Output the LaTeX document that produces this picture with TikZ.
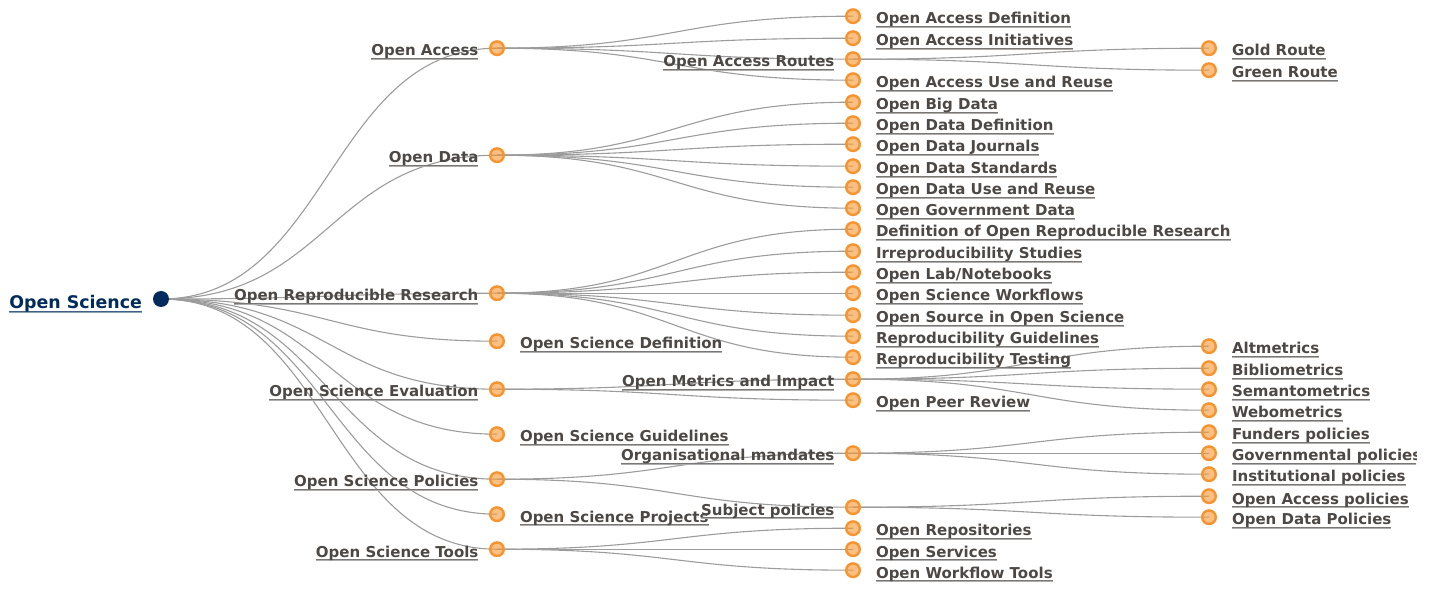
\documentclass[tikz,border=0pt]{standalone}
\usepackage{fontspec}
\setmainfont{DejaVu Sans}
\usetikzlibrary{backgrounds,calc}
\definecolor{labelgrey}{HTML}{4D4844}
\definecolor{navy}{HTML}{002B5C}
\definecolor{ringorange}{HTML}{F7942E}
\definecolor{linkgrey}{HTML}{9C9C9C}
\newcommand{\ulabel}[2]{\sbox0{#2}\makebox[0pt][l]{\color{#1!45!white}\rule[-4.0pt]{\wd0}{1.3pt}}\makebox[0pt][l]{\color{#1!75!white}\rule[-2.9pt]{\wd0}{0.8pt}}\copy0}
\tikzset{
  x=1pt,y=-1pt,
  dot/.style={circle,draw=ringorange,line width=2.4pt,fill=ringorange,fill opacity=.6,inner sep=0pt,minimum size=13.6pt},
  rootdot/.style={circle,fill=navy,inner sep=0pt,minimum size=16pt},
  lab/.style={inner sep=0pt,outer sep=0pt,font=\bfseries\fontsize{15pt}{16pt}\selectfont,text=labelgrey},
  rootlab/.style={inner sep=0pt,outer sep=0pt,font=\bfseries\fontsize{17.4pt}{18pt}\selectfont,text=navy},
  linkline/.style={draw=linkgrey,line width=1.1pt}
}
\newcommand{\lnode}[4]{% name,x,y,text : label on the left
  \node[dot] (#1) at (#2,#3+.2) {};
  \node[lab,anchor=base east] (#1t) at (#2-18.6,#3+8) {\ulabel{labelgrey}{#4}};}
\newcommand{\rnode}[4]{% label on the right
  \node[dot] (#1) at (#2,#3+.2) {};
  \node[lab,anchor=base west] (#1t) at (#2+23,#3+8) {\ulabel{labelgrey}{#4}};}
\begin{document}
\begin{tikzpicture}
\useasboundingbox (0,0) rectangle (1436,593);
\begin{scope}
\clip (0,0) rectangle (1416,593);
\node[rootdot] (root) at (161,299) {};
\node[rootlab,anchor=base east] (roott) at (142,308.6) {\ulabel{navy}{Open Science}};
\lnode{a}{497}{48}{Open Access}
\lnode{b}{497}{155}{Open Data}
\lnode{c}{497}{293}{Open Reproducible Research}
\rnode{d}{497}{341}{Open Science Definition}
\lnode{e}{497}{389}{Open Science Evaluation}
\rnode{f}{497}{434}{Open Science Guidelines}
\lnode{g}{497}{479}{Open Science Policies}
\rnode{h}{497}{514}{Open Science Projects}
\lnode{i}{497}{549}{Open Science Tools}
\rnode{a1}{853}{16}{Open Access Definition}
\rnode{a2}{853}{38}{Open Access Initiatives}
\lnode{a3}{853}{59}{Open Access Routes}
\rnode{a4}{853}{80}{Open Access Use and Reuse}
\rnode{b1}{853}{102}{Open Big Data}
\rnode{b2}{853}{123}{Open Data Definition}
\rnode{b3}{853}{144}{Open Data Journals}
\rnode{b4}{853}{166}{Open Data Standards}
\rnode{b5}{853}{187}{Open Data Use and Reuse}
\rnode{b6}{853}{208}{Open Government Data}
\rnode{c1}{853}{229}{Definition of Open Reproducible Research}
\rnode{c2}{853}{251}{Irreproducibility Studies}
\rnode{c3}{853}{272}{Open Lab/Notebooks}
\rnode{c4}{853}{293}{Open Science Workflows}
\rnode{c5}{853}{315}{Open Source in Open Science}
\rnode{c6}{853}{336}{Reproducibility Guidelines}
\rnode{c7}{853}{357}{Reproducibility Testing}
\lnode{e1}{853}{379}{Open Metrics and Impact}
\rnode{e2}{853}{400}{Open Peer Review}
\lnode{g1}{853}{453}{Organisational mandates}
\lnode{g2}{853}{507}{Subject policies}
\rnode{i1}{853}{528}{Open Repositories}
\rnode{i2}{853}{549}{Open Services}
\rnode{i3}{853}{570}{Open Workflow Tools}
\rnode{r1}{1209}{48}{Gold Route}
\rnode{r2}{1209}{70}{Green Route}
\rnode{m1}{1209}{346}{Altmetrics}
\rnode{m2}{1209}{368}{Bibliometrics}
\rnode{m3}{1209}{389}{Semantometrics}
\rnode{m4}{1209}{410}{Webometrics}
\rnode{o1}{1209}{432}{Funders policies}
\rnode{o2}{1209}{453}{Governmental policies}
\rnode{o3}{1209}{474}{Institutional policies}
\rnode{s1}{1209}{496}{Open Access policies}
\rnode{s2}{1209}{517}{Open Data Policies}
\end{scope}
\begin{scope}[on background layer]
\foreach \src/\dst in {root/a,root/b,root/c,root/d,root/e,root/f,root/g,root/h,root/i,
  a/a1,a/a2,a/a3,a/a4,b/b1,b/b2,b/b3,b/b4,b/b5,b/b6,
  c/c1,c/c2,c/c3,c/c4,c/c5,c/c6,c/c7,e/e1,e/e2,g/g1,g/g2,i/i1,i/i2,i/i3,
  a3/r1,a3/r2,e1/m1,e1/m2,e1/m3,e1/m4,g1/o1,g1/o2,g1/o3,g2/s1,g2/s2}{
  \draw[linkline] let \p1=(\src.center),\p2=(\dst.center) in
    (\src.center) .. controls ({0.5*\x1+0.5*\x2},\y1) and ({0.5*\x1+0.5*\x2},\y2) .. (\dst.center);
}
\end{scope}
\end{tikzpicture}
\end{document}
